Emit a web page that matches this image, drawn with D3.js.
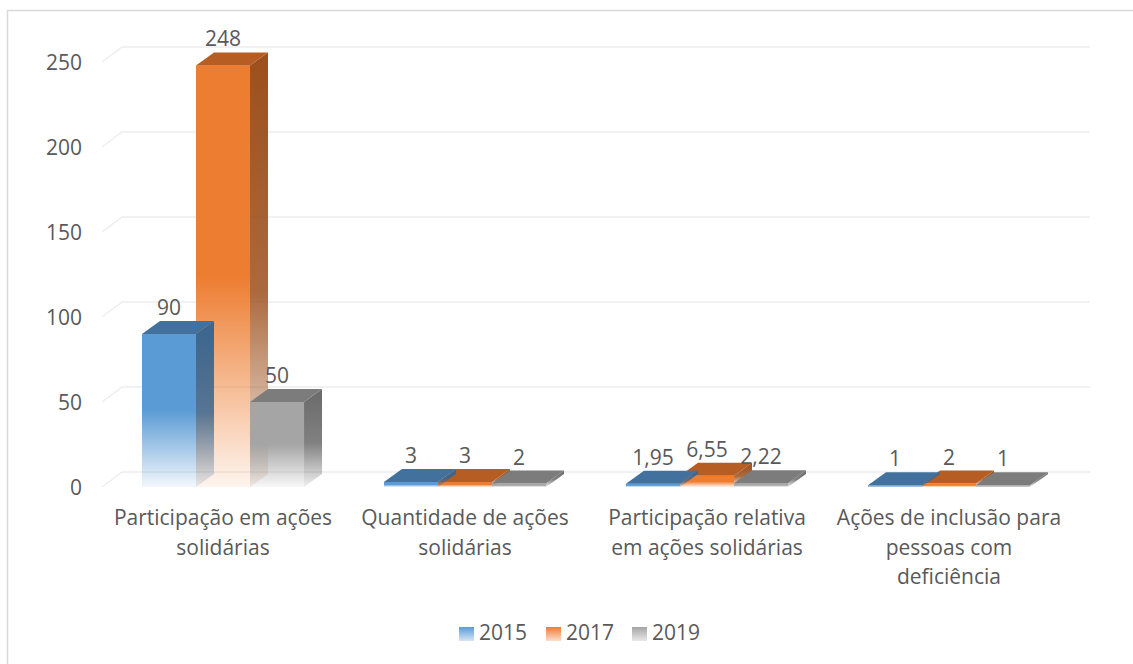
<!DOCTYPE html>
<html>
<head>
<meta charset="utf-8">
<script src="https://cdn.jsdelivr.net/npm/d3@7"></script>
<style>
  body { margin: 0; background: #fff; }
  text { font-family: "Open Sans", sans-serif; fill: #595959; }
</style>
</head>
<body>
<div id="chart"></div>
<script>
const categories = [
  "Participação em ações solidárias",
  "Quantidade de ações solidárias",
  "Participação relativa em ações solidárias",
  "Ações de inclusão para pessoas com deficiência"
];
const categoryLines = [
  ["Participação em ações", "solidárias"],
  ["Quantidade de ações", "solidárias"],
  ["Participação relativa", "em ações solidárias"],
  ["Ações de inclusão para", "pessoas com", "deficiência"]
];
const years = ["2015", "2017", "2019"];
const values2015 = [90, 3, 1.95, 1];
const values2017 = [248, 3, 6.55, 2];
const values2019 = [50, 2, 2.22, 1];
const yTicks = [0, 50, 100, 150, 200, 250];

const W = 1133, H = 664;
const series = [values2015, values2017, values2019];
const colors = ["#5B9BD5", "#ED7D31", "#A5A5A5"];
const topColors = ["#41719C", "#B55D22", "#7C7C7C"];
const sideColors = ["#3A6690", "#9C4F1C", "#6A6A6A"];
const wall = { dx: 20, dy: -15 };
const depth = { dx: 18, dy: -13 };
const fontSize = "21px";

const svg = d3.select("#chart").append("svg").attr("width", W).attr("height", H);

// outer frame
svg.append("rect").attr("x", 7.5).attr("y", 10.5).attr("width", W).attr("height", H)
  .attr("fill", "none").attr("stroke", "#D9D9D9").attr("stroke-width", 1.5);

const x0 = d3.scaleBand().domain(categories).range([102, 1070]);
const x1 = d3.scaleBand().domain(years).range([0, x0.bandwidth()]).paddingOuter(0.74);
const y = d3.scaleLinear().domain([0, 250]).range([487, 62]);

// gradients fading each bar to white
const defs = svg.append("defs");
colors.forEach((c, i) => {
  const g = defs.append("linearGradient").attr("id", "grad" + i)
    .attr("x1", 0).attr("y1", 0).attr("x2", 0).attr("y2", 1);
  g.append("stop").attr("offset", "0%").attr("stop-color", c);
  g.append("stop").attr("offset", "50%").attr("stop-color", c);
  g.append("stop").attr("offset", "100%").attr("stop-color", c).attr("stop-opacity", 0.08);
  const s = defs.append("linearGradient").attr("id", "side" + i)
    .attr("x1", 0).attr("y1", 0).attr("x2", 0).attr("y2", 1);
  s.append("stop").attr("offset", "0%").attr("stop-color", sideColors[i]);
  s.append("stop").attr("offset", "55%").attr("stop-color", sideColors[i]).attr("stop-opacity", 0.85);
  s.append("stop").attr("offset", "100%").attr("stop-color", sideColors[i]).attr("stop-opacity", 0.1);
  const l = defs.append("linearGradient").attr("id", "leg" + i)
    .attr("x1", 0).attr("y1", 0).attr("x2", 0).attr("y2", 1);
  l.append("stop").attr("offset", "0%").attr("stop-color", c);
  l.append("stop").attr("offset", "100%").attr("stop-color", c).attr("stop-opacity", 0.25);
});

// gridlines: left floor diagonal + back wall line
const grid = svg.append("g");
yTicks.forEach(t => {
  grid.append("path")
    .attr("d", `M${x0.range()[0]},${y(t)} L${x0.range()[0] + wall.dx},${y(t) + wall.dy} L${x0.range()[1] + wall.dx},${y(t) + wall.dy}`)
    .attr("fill", "none").attr("stroke", "#EDEDED").attr("stroke-width", 1.5);
});

// y axis labels
svg.append("g").attr("transform", "translate(82,0)")
  .call(d3.axisLeft(y).tickValues(yTicks).tickSize(0).tickPadding(0))
  .call(g => g.select(".domain").remove())
  .selectAll("text").style("font-size", fontSize).style("font-family", "'Open Sans', sans-serif")
  .attr("fill", "#595959").attr("dy", "0.35em");

// bars (draw order like the original render)
const bars = svg.append("g");
const drawOrder = [1, 0, 2];
categories.forEach((cat, ci) => {
  drawOrder.forEach(si => {
    const v = series[si][ci];
    const xl = x0(cat) + x1(years[si]);
    const w = x1.bandwidth();
    const yt = y(v), yb = y(0);
    const g = bars.append("g");
    // side face
    g.append("path")
      .attr("d", `M${xl + w},${yt} L${xl + w + depth.dx},${yt + depth.dy} L${xl + w + depth.dx},${yb + depth.dy} L${xl + w},${yb} Z`)
      .attr("fill", `url(#side${si})`);
    // front face
    g.append("rect").attr("x", xl).attr("y", yt).attr("width", w).attr("height", Math.max(yb - yt, 1.5))
      .attr("fill", `url(#grad${si})`);
    // top face
    g.append("path")
      .attr("d", `M${xl},${yt} L${xl + depth.dx},${yt + depth.dy} L${xl + w + depth.dx},${yt + depth.dy} L${xl + w},${yt} Z`)
      .attr("fill", topColors[si]);
  });
});

// value labels
const labels = svg.append("g");
categories.forEach((cat, ci) => {
  series.forEach((s, si) => {
    labels.append("text")
      .attr("x", x0(cat) + x1(years[si]) + x1.bandwidth() / 2)
      .attr("y", y(s[ci]) - 19)
      .attr("text-anchor", "middle")
      .style("font-size", fontSize)
      .text(String(s[ci]).replace(".", ","));
  });
});

// category labels
const catG = svg.append("g");
categories.forEach((cat, ci) => {
  const t = catG.append("text").attr("text-anchor", "middle").style("font-size", fontSize);
  categoryLines[ci].forEach((line, li) => {
    t.append("tspan").attr("x", x0(cat) + x0.bandwidth() / 2).attr("y", 525 + li * 29.5).text(line);
  });
});

// legend
const legendX = [459, 546, 632];
const legend = svg.append("g");
years.forEach((yr, i) => {
  legend.append("rect").attr("x", legendX[i]).attr("y", 627).attr("width", 15).attr("height", 14)
    .attr("fill", `url(#leg${i})`);
  legend.append("text").attr("x", legendX[i] + 20).attr("y", 640).style("font-size", fontSize).text(yr);
});
</script>
</body>
</html>
